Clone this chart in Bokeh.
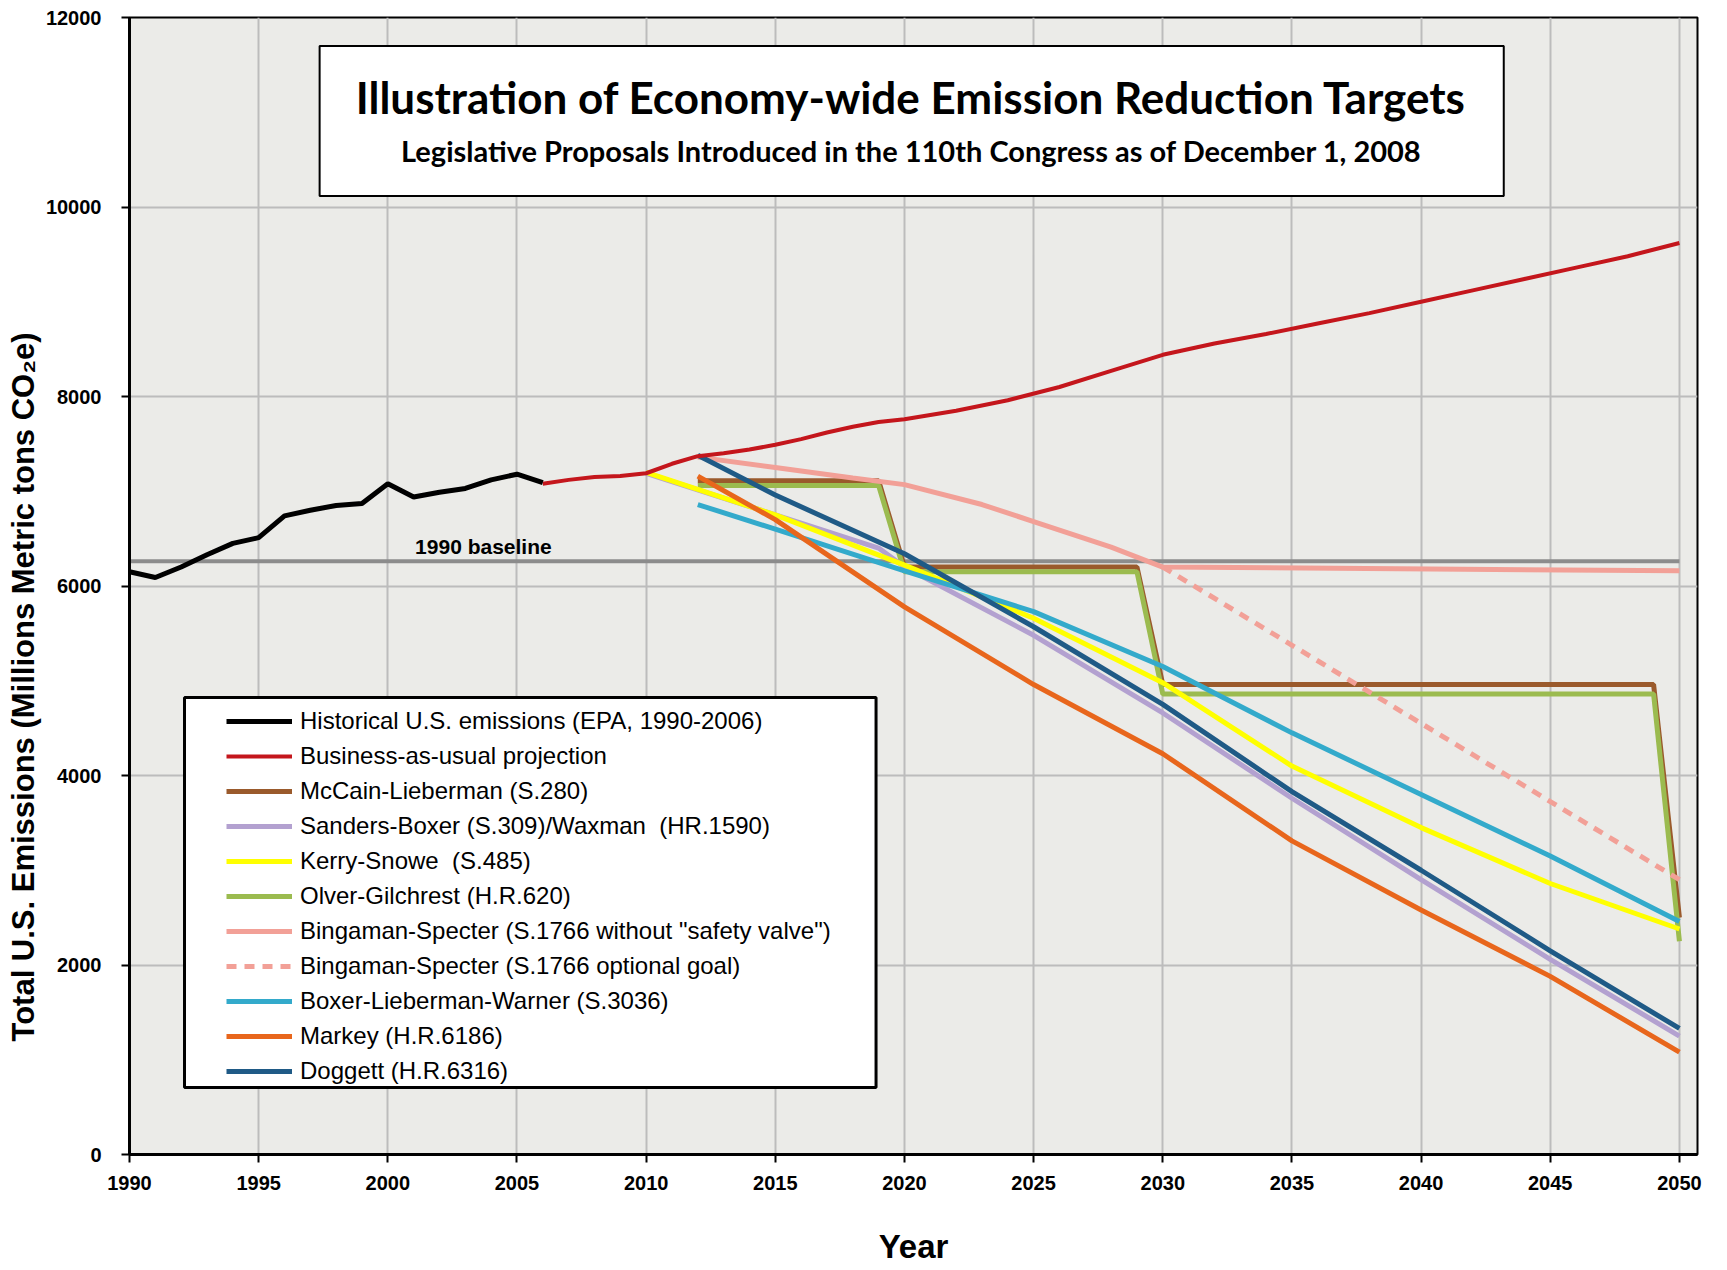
from bokeh.plotting import figure
from bokeh.models import Range1d, FixedTicker, Legend, LegendItem, BoxAnnotation, Label, Title
from bokeh.embed import file_html
from bokeh.resources import INLINE

# ---------------- data ----------------
hist_years = list(range(1990, 2007))
hist_vals = [6150, 6090, 6200, 6330, 6450, 6510, 6740, 6800, 6850, 6870, 7080, 6940, 6990, 7030, 7120, 7180, 7090]

bau_years = [2006, 2007, 2008, 2009, 2010, 2011, 2012, 2013, 2014, 2015, 2016, 2017, 2018, 2019, 2020,
             2022, 2024, 2026, 2028, 2030, 2032, 2034, 2036, 2038, 2040, 2042, 2044, 2046, 2048, 2050]
bau_vals = [7080, 7120, 7150, 7160, 7190, 7290, 7370, 7400, 7440, 7490, 7550, 7620, 7680, 7730, 7760,
            7850, 7960, 8100, 8270, 8440, 8560, 8660, 8770, 8880, 9000, 9120, 9240, 9360, 9480, 9620]

baseline_years = [1990, 2050]
baseline_vals = [6260, 6260]

step_years = [2012, 2019, 2020, 2029, 2030, 2049, 2050]
mccain_vals = [7110, 7110, 6200, 6200, 4960, 4960, 2500]
olver_vals = [7060, 7060, 6150, 6150, 4860, 4860, 2250]

sanders_years = [2010, 2019, 2020, 2025, 2030, 2035, 2040, 2045, 2050]
sanders_vals = [7190, 6400, 6200, 5480, 4660, 3760, 2900, 2060, 1250]

kerry_years = [2010, 2012, 2015, 2020, 2025, 2030, 2035, 2040, 2045, 2050]
kerry_vals = [7200, 7020, 6750, 6220, 5660, 4980, 4100, 3450, 2860, 2380]

bing_years = [2012, 2015, 2018, 2020, 2023, 2025, 2028, 2030, 2050]
bing_vals = [7360, 7250, 7140, 7070, 6860, 6680, 6410, 6200, 6160]

bing_opt_years = [2030, 2050]
bing_opt_vals = [6200, 2900]

plan_years = [2012, 2015, 2020, 2025, 2030, 2035, 2040, 2045, 2050]
blw_vals = [6860, 6600, 6160, 5730, 5150, 4450, 3800, 3150, 2460]
markey_vals = [7160, 6700, 5780, 4960, 4230, 3310, 2580, 1880, 1080]
doggett_vals = [7380, 6960, 6340, 5570, 4750, 3830, 3000, 2150, 1330]

x_ticks = list(range(1990, 2051, 5))
y_ticks = list(range(0, 12001, 2000))

labels = [
    "Historical U.S. emissions (EPA, 1990-2006)",
    "Business-as-usual projection",
    "McCain-Lieberman (S.280)",
    "Sanders-Boxer (S.309)/Waxman  (HR.1590)",
    "Kerry-Snowe  (S.485)",
    "Olver-Gilchrest (H.R.620)",
    "Bingaman-Specter (S.1766 without \"safety valve\")",
    "Bingaman-Specter (S.1766 optional goal)",
    "Boxer-Lieberman-Warner (S.3036)",
    "Markey (H.R.6186)",
    "Doggett (H.R.6316)",
]

title_text = "Illustration of Economy-wide Emission Reduction Targets"
subtitle_text = "Legislative Proposals Introduced in the 110th Congress as of December 1, 2008"
y_label_text = "Total U.S. Emissions (Millions Metric tons CO\u2082e)"

# ---------------- figure ----------------
SANS = "Liberation Sans"

p = figure(width=1727, height=1270, output_backend="svg", toolbar_location=None,
           x_range=Range1d(1990, 2050.7), y_range=Range1d(0, 12000),
           min_border_left=129, min_border_right=30, min_border_top=17, min_border_bottom=116)

p.background_fill_color = "#ebebe8"
p.border_fill_color = "white"
p.outline_line_color = "black"
p.outline_line_width = 2

p.xaxis.ticker = FixedTicker(ticks=x_ticks)
p.yaxis.ticker = FixedTicker(ticks=y_ticks)
p.xgrid.ticker = FixedTicker(ticks=x_ticks)
p.ygrid.ticker = FixedTicker(ticks=y_ticks)
for g in (p.xgrid, p.ygrid):
    g.grid_line_color = "#bcbcbc"
    g.grid_line_width = 2

for ax in (p.xaxis, p.yaxis):
    ax.axis_line_color = "black"
    ax.axis_line_width = 3
    ax.major_tick_line_color = "black"
    ax.major_tick_line_width = 2
    ax.major_tick_out = 8
    ax.major_tick_in = 0
    ax.minor_tick_line_color = None
    ax.major_label_text_font = SANS
    ax.major_label_text_font_style = "bold"
    ax.major_label_text_font_size = "20px"
    ax.major_label_text_color = "black"

p.xaxis.major_label_standoff = 13
p.yaxis.major_label_standoff = 20

p.xaxis.axis_label = "Year"
p.xaxis.axis_label_text_font = SANS
p.xaxis.axis_label_text_font_style = "bold"
p.xaxis.axis_label_text_font_size = "33px"
p.xaxis.axis_label_text_color = "black"
p.xaxis.axis_label_standoff = 35

# y-axis title (offset toward the bottom as in the reference)
ytitle = Title(text=y_label_text, align="left", offset=113, standoff=4,
               text_font=SANS, text_font_style="bold", text_font_size="31px", text_color="black")
p.add_layout(ytitle, "left")

# ---------------- lines ----------------
r_base = p.line(baseline_years, baseline_vals, line_color="#8c8c8c", line_width=4)
r_mccain = p.line(step_years, mccain_vals, line_color="#9a5a2c", line_width=5)
r_olver = p.line(step_years, olver_vals, line_color="#9bbb4f", line_width=5)
r_bing = p.line(bing_years, bing_vals, line_color="#f2a097", line_width=5)
r_bing_opt = p.line(bing_opt_years, bing_opt_vals, line_color="#f2a097", line_width=5, line_dash="10 8")
r_sanders = p.line(sanders_years, sanders_vals, line_color="#b3a1d0", line_width=5)
r_kerry = p.line(kerry_years, kerry_vals, line_color="#ffff00", line_width=5)
r_blw = p.line(plan_years, blw_vals, line_color="#33aacb", line_width=5)
r_doggett = p.line(plan_years, doggett_vals, line_color="#1f5a86", line_width=5)
r_markey = p.line(plan_years, markey_vals, line_color="#e8661c", line_width=5)
r_bau = p.line(bau_years, bau_vals, line_color="#c4161c", line_width=4)
r_hist = p.line(hist_years, hist_vals, line_color="black", line_width=5)

# ---------------- annotations ----------------
title_box = BoxAnnotation(left=1997.36, right=2043.2, top=11700, bottom=10115,
                          fill_color="white", fill_alpha=1, line_color="black", line_alpha=1, line_width=2)
p.add_layout(title_box)
p.add_layout(Label(x=2020.27, y=11156, text=title_text, text_align="center", text_baseline="middle",
                   text_font="Lato", text_font_style="bold", text_font_size="44px", text_color="black"))
p.add_layout(Label(x=2020.27, y=10596, text=subtitle_text, text_align="center", text_baseline="middle",
                   text_font="Lato", text_font_style="bold", text_font_size="29px", text_color="black"))

p.add_layout(Label(x=2003.7, y=6300, text="1990 baseline", text_align="center", text_baseline="bottom",
                   text_font=SANS, text_font_style="bold", text_font_size="21px", text_color="black"))

legend_box = BoxAnnotation(left=1992.13, right=2018.9, top=4823, bottom=707,
                           fill_color="white", fill_alpha=1, line_color="black", line_alpha=1, line_width=3)
p.add_layout(legend_box)

renderers = [r_hist, r_bau, r_mccain, r_sanders, r_kerry, r_olver, r_bing, r_bing_opt, r_blw, r_markey, r_doggett]
legend = Legend(items=[LegendItem(label=l, renderers=[r]) for l, r in zip(labels, renderers)],
                location=(97, 68), padding=0, margin=0, spacing=5,
                glyph_width=66, glyph_height=30, label_height=30, label_standoff=8,
                label_text_font=SANS, label_text_font_size="24px", label_text_color="black",
                background_fill_alpha=0, border_line_alpha=0)
p.add_layout(legend)

open("out.html", "w").write(file_html(p, INLINE))
